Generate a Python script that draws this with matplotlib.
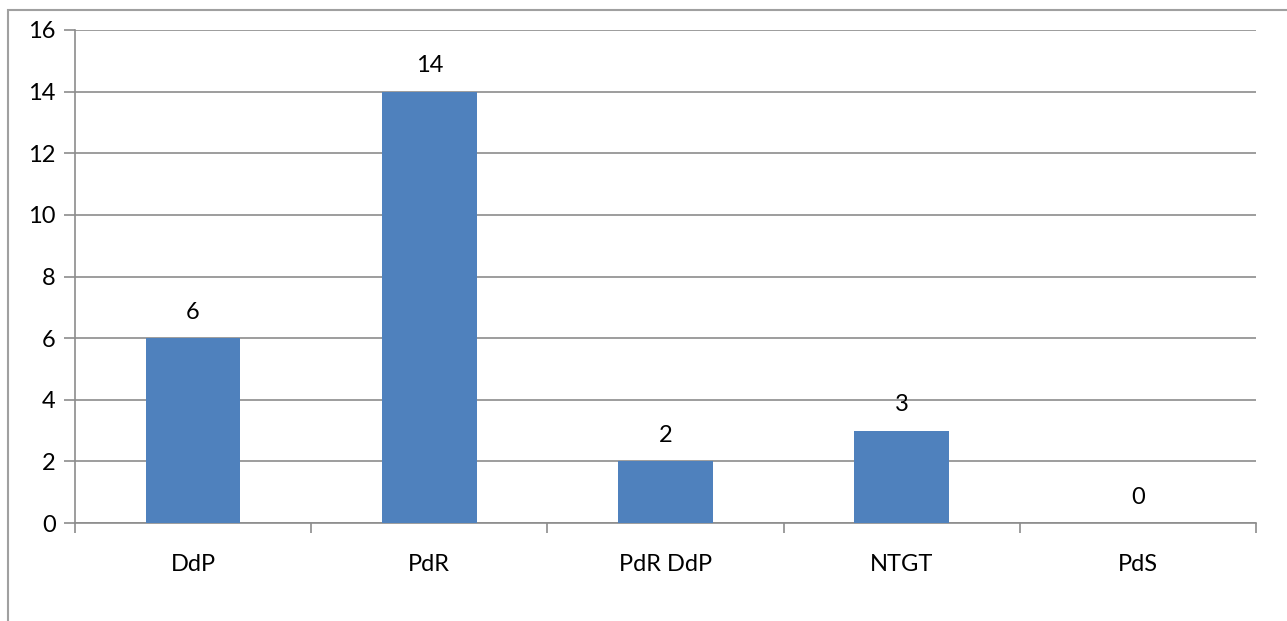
import matplotlib
matplotlib.use("Agg")
import matplotlib.pyplot as plt
from matplotlib.patches import Rectangle
import numpy as np

categories = ["DdP", "PdR", "PdR DdP", "NTGT", "PdS"]
values = [6, 14, 2, 3, 0]
yticks = [0, 2, 4, 6, 8, 10, 12, 14, 16]

plt.rcParams['font.family'] = ['Lato', 'DejaVu Sans']

W, H = 1287, 621
fig = plt.figure(figsize=(W/100, H/100), dpi=100)
fig.patches.append(Rectangle((8/W, -0.1), 1.2, 1 - 10/H + 0.1, transform=fig.transFigure,
                             fill=False, edgecolor='#a0a0a0', linewidth=1.5, figure=fig))

ax = fig.add_axes([75/W, 1 - 523/H, (1256-75)/W, (523-30)/H])
x = np.arange(len(categories))
bars = ax.bar(x, values, width=0.4, color='#4F81BD', zorder=3)
for xi, v in zip(x, values):
    ax.annotate(str(v), (xi, v), xytext=(0, 11), textcoords='offset points',
                ha='center', va='bottom', fontsize=17, color='black')

ax.set_xlim(-0.5, len(categories) - 0.5)
ax.set_ylim(0, 16)
ax.set_yticks(yticks)
ax.set_yticklabels([str(t) for t in yticks], fontsize=17)
ax.yaxis.grid(True, color='#8c8c8c', linewidth=1.2, zorder=0)
ax.set_axisbelow(True)

ax.set_xticks(x)
ax.set_xticklabels(categories, fontsize=17)
ax.tick_params(axis='x', length=0, pad=22)
ax.set_xticks(np.arange(-0.5, len(categories)), minor=True)
ax.tick_params(axis='x', which='minor', length=7, color='#8c8c8c', width=1.2)
ax.tick_params(axis='y', length=8, color='#8c8c8c', width=1.2, pad=6)

for side in ['top', 'right']:
    ax.spines[side].set_visible(False)
for side in ['left', 'bottom']:
    ax.spines[side].set_color('#8c8c8c')
    ax.spines[side].set_linewidth(1.2)

fig.savefig("out.png", dpi=100)
